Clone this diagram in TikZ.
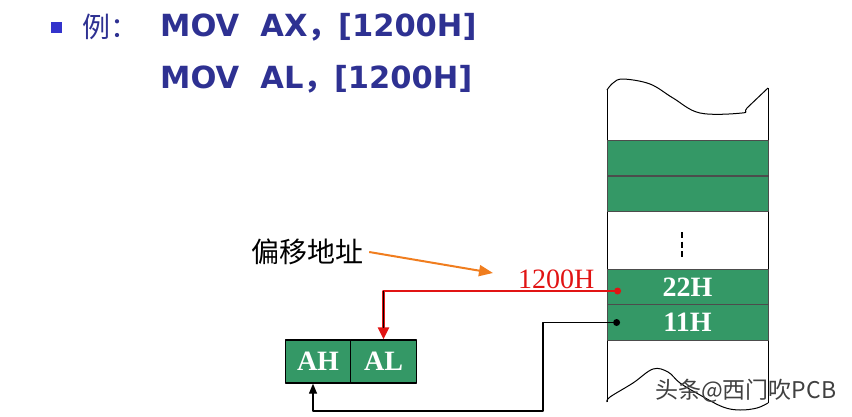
\documentclass[tikz,border=0pt]{standalone}
\usepackage{fontspec}
\setmainfont{Liberation Serif}
\newfontfamily\cjk{Noto Sans CJK SC}
\newfontfamily\headfont{DejaVu Sans}
\usetikzlibrary{arrows.meta, positioning}
\definecolor{cellgreen}{RGB}{52,152,102}
\definecolor{headblue}{RGB}{46,49,146}
\definecolor{bulletblue}{RGB}{51,51,204}
\definecolor{offsetorange}{RGB}{240,125,30}
\definecolor{addrred}{RGB}{225,20,20}

\begin{document}
\begin{tikzpicture}[x=1pt, y=-1pt, line join=round,
    cell/.style={draw=black!70, line width=0.8pt, fill=cellgreen, minimum width=161pt,
      minimum height=35.5pt, inner sep=0pt, text=white,
      font=\fontsize{28}{30}\selectfont\bfseries},
    reg/.style={cell, draw=black, line width=1.3pt, minimum width=65.5pt, minimum height=43pt},
    headtext/.style={anchor=west, inner sep=0pt, text=headblue},
    addrline/.style={addrred, line width=2.6pt, -{Triangle[length=12pt, width=11pt]}},
    dataline/.style={black, line width=1.2pt, -{Triangle[length=10pt, width=8pt]}},
    offsetarrow/.style={offsetorange, line width=2pt, -{Triangle[length=14pt, width=11pt]}}]
  \useasboundingbox (0,0) rectangle (852,416);

  % heading
  \node[fill=bulletblue, minimum size=11pt, inner sep=0pt] (bullet) at (56.5,27.5) {};
  \node[headtext, font=\cjk\fontsize{28}{30}\selectfont] (eg) at (82,27) {例：};
  \node[headtext, font=\headfont\fontsize{30.5}{32}\selectfont\bfseries] (ins1) at (160,27)
    {MOV\ \ AX{\cjk ，}[1200H]};
  \node[headtext, font=\headfont\fontsize{30.5}{32}\selectfont\bfseries] (ins2) at (160,79)
    {MOV\ \ AL{\cjk ，}[1200H]};

  % memory column, torn at both ends
  \draw[line width=1pt] plot[smooth, tension=0.6] coordinates {(607,90) (613,83) (623,79)
    (650,84) (673,98) (700,113) (742,113) (747,108) (768,88)};
  \draw[line width=1pt] plot[smooth, tension=0.6] coordinates {(607,402) (610,397) (633,383)
    (653,369) (668,372) (680,383) (700,395) (723,407) (740,410) (757,408) (768,403)};
  \draw[line width=0.8pt] (607,90) -- (607,402);   % left side
  \draw[line width=0.8pt] (768,88) -- (768,403);   % right side

  \node[cell] (m1) at (687.5,158) {};
  \node[cell] (m2) at (687.5,194) {};
  \draw[line width=2.6pt, dash pattern=on 6pt off 3.5pt] (682,232) -- (682,259);
  \node[cell] (m22) at (687.5,287) {22H};
  \node[cell] (m11) at (687.5,322.5) {11H};

  % register AX
  \node[reg] (ah) at (318,361.5) {AH};
  \node[reg] (al) at (383.5,361.5) {AL};

  % labels
  \node[font=\cjk\fontsize{28}{30}\selectfont, inner sep=0pt] (lbl) at (307,252) {偏移地址};
  \node[anchor=base west, inner sep=0pt, text=addrred, font=\fontsize{28}{30}\selectfont]
    (addr) at (518,288) {1200H};
  \coordinate (otip) at (493,273);
  \draw[offsetarrow] ([xshift=6pt]lbl.east) -- (otip);

  % connectors
  \coordinate (d22) at ([xshift=11pt, yshift=-4pt]m22.west);
  \coordinate (d11) at ([xshift=10pt]m11.west);
  \coordinate (rbend) at (d22 -| al.north);
  \coordinate (lbend) at (543,411);
  \draw[addrline] (d22) -- (rbend) -- (al.north);
  \draw[black, line width=1.2pt, shorten >=11pt] (rbend) -- (al.north);
  \fill[addrred] (d22) circle (3.5pt);
  \draw[dataline] (d11) -| (lbend) -| ([xshift=-5pt]ah.south);
  \fill (d11) circle (3.5pt);

  \node[anchor=west, inner sep=0pt, text=black!75, font=\cjk\fontsize{23}{25}\selectfont]
    (mark) at (655,391) {头条@西门吹PCB};
\end{tikzpicture}
\end{document}
